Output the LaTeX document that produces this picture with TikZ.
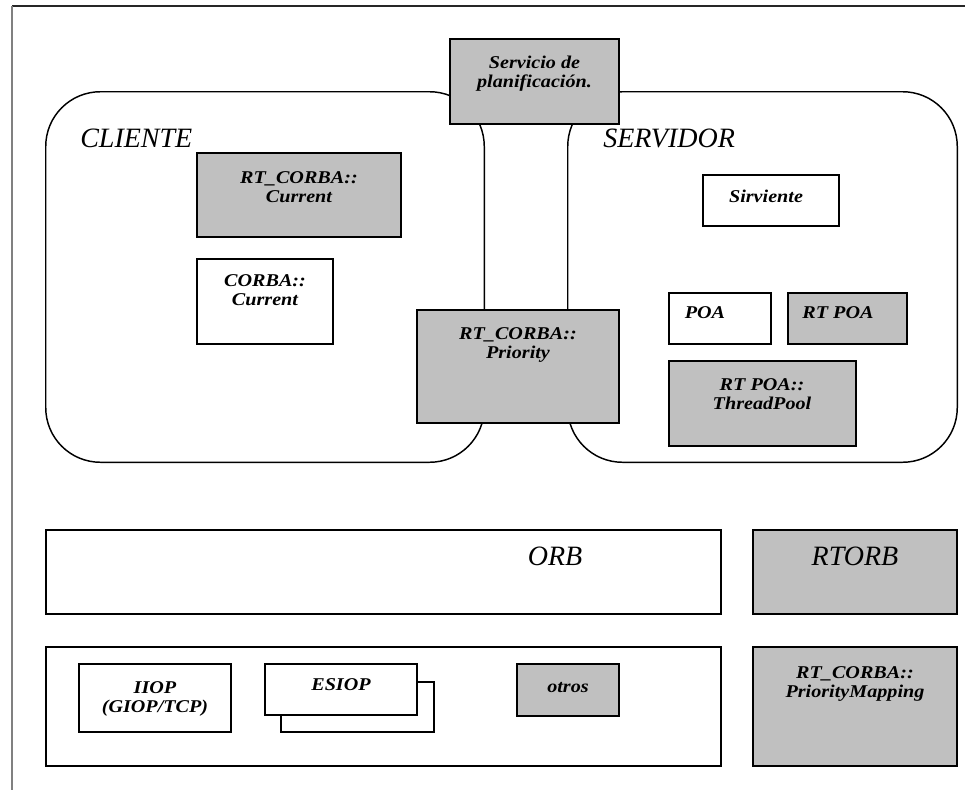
\documentclass[tikz,border=0pt]{standalone}
\usepackage{fontspec}
\setmainfont{Liberation Serif}
\newfontfamily\labfont[FakeStretch=1.12]{Liberation Serif}
\usetikzlibrary{fit}
\definecolor{boxgray}{HTML}{C0C0C0}
\begin{document}
\begin{tikzpicture}[x=0.75pt,y=-0.75pt,
  bx/.style={draw=black, line width=1pt, inner sep=0pt},
  gbx/.style={bx, fill=boxgray},
  wbx/.style={bx, fill=white},
  lab/.style={font=\labfont\fontsize{13.5}{14.25}\selectfont\bfseries\itshape, align=center, inner sep=0pt, anchor=base},
  big/.style={font=\fontsize{21}{24}\selectfont\itshape, inner sep=0pt, anchor=base},
  region/.style={draw=black, line width=1.1pt, rounded corners=41pt}]
\useasboundingbox (0,0) rectangle (965,793);
% page frame
\coordinate (fTL) at (12,6);
\coordinate (fTR) at (965,6);
\coordinate (fBL) at (12,790);
\draw[black!85, line width=0.8pt] (fTL) -- (fTR);
\draw[gray, line width=0.8pt] (fTL) -- (fBL);
% client and server regions
\node[fit={(46,92) (484,462)}, inner sep=0pt] (cliente) {};
\node[fit={(568,92) (957,462)}, inner sep=0pt] (servidor) {};
\draw[region] (cliente.north west) rectangle (cliente.south east);
\draw[region] (servidor.north west) rectangle (servidor.south east);
\node[big, anchor=base west] (clienteT) at (80,147) {CLIENTE};
\node[big, anchor=base west] (servidorT) at (603,147) {SERVIDOR};
% scheduling service
\node[gbx, fit={(450,39) (619,124)}] (serv) {};
\node[lab] (servT) at (534.5,87) {Servicio de\\planificación.};
% client boxes
\node[gbx, fit={(197,153) (401,237)}] (rtcur) {};
\node[lab] (rtcurT) at (299,202) {RT\_CORBA::\\Current};
\node[wbx, fit={(197,259) (333,344)}] (cur) {};
\node[lab] (curT) at (265,305) {CORBA::\\Current};
\node[gbx, fit={(417,310) (619,423)}] (prio) {};
\node[lab] (prioT) at (518,358) {RT\_CORBA::\\Priority};
% server boxes
\node[wbx, fit={(703,175) (839,226)}] (sirv) {};
\node[lab] (sirvT) at (766,202) {Sirviente};
\node[wbx, fit={(669,293) (771,344)}] (poa) {};
\node[lab] (poaT) at (705,318) {POA};
\node[gbx, fit={(788,293) (907,344)}] (rtpoa) {};
\node[lab] (rtpoaT) at (838,318) {RT POA};
\node[gbx, fit={(669,361) (856,446)}] (tpool) {};
\node[lab] (tpoolT) at (762,409) {RT POA::\\ThreadPool};
% ORB layer
\node[wbx, fit={(46,530) (721,614)}] (orb) {};
\node[big] (orbT) at (555,565) {ORB};
\node[gbx, fit={(753,530) (957,614)}] (rtorb) {};
\node[big] (rtorbT) at (855,565) {RTORB};
% transport layer
\node[wbx, fit={(46,647) (721,766)}] (trans) {};
\node[wbx, fit={(79,664) (231,732)}] (iiop) {};
\node[lab] (iiopT) at (155,712) {IIOP\\(GIOP/TCP)};
\node[wbx, fit={(281,682) (434,732)}] (esiopB) {};
\node[wbx, fit={(265,664) (417,715)}] (esiop) {};
\node[lab] (esiopT) at (341,690) {ESIOP};
\node[gbx, fit={(517,664) (619,716)}] (otros) {};
\node[lab] (otrosT) at (568,692) {otros};
\node[gbx, fit={(753,647) (957,766)}] (pmap) {};
\node[lab] (pmapT) at (855,697) {RT\_CORBA::\\PriorityMapping};
\end{tikzpicture}
\end{document}
